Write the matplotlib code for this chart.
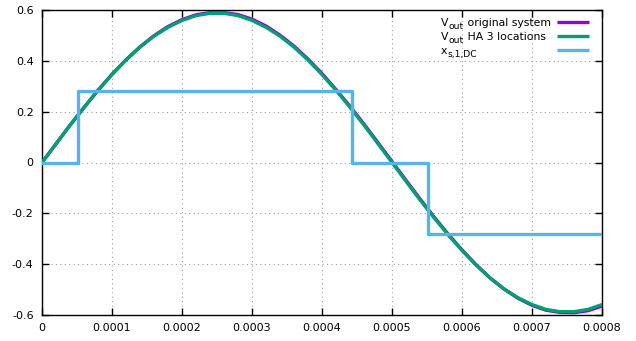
import matplotlib
matplotlib.use("Agg")
import matplotlib.pyplot as plt
from matplotlib.lines import Line2D

plt.rcParams['font.family'] = ['DejaVu Sans']
plt.rcParams['axes.unicode_minus'] = False

# time samples (s)
t = [i * 0.00002 for i in range(41)]

# V_out original system
v_orig = [0.000, 0.073, 0.146, 0.216, 0.284, 0.347, 0.404, 0.455, 0.499, 0.535,
          0.562, 0.581, 0.590, 0.590, 0.582, 0.564, 0.537, 0.501, 0.458, 0.407,
          0.350, 0.287, 0.221, 0.151, 0.078, 0.004, -0.070, -0.143, -0.214, -0.281,
          -0.344, -0.402, -0.454, -0.498, -0.534, -0.562, -0.581, -0.590, -0.591, -0.583,
          -0.565]

# V_out HA 3 locations
v_ha = [0.000, 0.074, 0.147, 0.217, 0.284, 0.346, 0.403, 0.454, 0.497, 0.532,
        0.559, 0.578, 0.587, 0.587, 0.578, 0.559, 0.532, 0.497, 0.454, 0.403,
        0.346, 0.284, 0.217, 0.147, 0.074, 0.000, -0.074, -0.147, -0.217, -0.284,
        -0.346, -0.403, -0.454, -0.497, -0.532, -0.559, -0.578, -0.587, -0.587, -0.578,
        -0.559]

# x_s,1,DC step signal
step_t = [0.0, 0.0000514, 0.000443, 0.000552, 0.0008]
step_v = [0.0, 0.283, 0.0, -0.283, -0.283]

# legend labels as (text, is_subscript) pieces
labels = [[('V', False), ('out', True), (' original system', False)],
          [('V', False), ('out', True), (' HA 3 locations', False)],
          [('x', False), ('s,1,DC', True)]]
colors = ['#9400D3', '#009E73', '#56B4E9']

xticks = [0, 0.0001, 0.0002, 0.0003, 0.0004, 0.0005, 0.0006, 0.0007, 0.0008]
xticklabels = ['0', '0.0001', '0.0002', '0.0003', '0.0004', '0.0005', '0.0006', '0.0007', '0.0008']
yticks = [-0.6, -0.4, -0.2, 0, 0.2, 0.4, 0.6]
yticklabels = ['-0.6', '-0.4', '-0.2', '0', '0.2', '0.4', '0.6']

W, H = 636, 341
fig = plt.figure(figsize=(W/100, H/100), dpi=100)
ax = fig.add_axes([42/W, 26/H, 560/W, 305/H])

ax.plot(t, v_orig, color=colors[0], lw=2.4, zorder=3)
ax.plot(t, v_ha, color=colors[1], lw=2.4, zorder=4)
ax.step(step_t, step_v, where='post', color=colors[2], lw=2.4, zorder=5)

ax.set_xlim(0, 0.0008)
ax.set_ylim(-0.6, 0.6)
ax.set_xticks(xticks)
ax.set_xticklabels(xticklabels)
ax.set_yticks(yticks)
ax.set_yticklabels(yticklabels)
ax.tick_params(direction='in', top=True, right=True, length=5, width=1,
               labelsize=8, colors='black', pad=6)
ax.grid(True, color='#a0a0a0', linestyle=(0, (1, 3)), linewidth=0.8)
for s in ax.spines.values():
    s.set_linewidth(1.0)
    s.set_color('black')

# gnuplot-like key drawn in figure pixel coordinates
renderer = fig.canvas.get_renderer()
main_fs, sub_fs, sub_drop = 7.8, 6.6, 2.5
for i, (pieces, col) in enumerate(zip(labels, colors)):
    ly = 22 + 14 * i
    base = ly + 4.5
    x = 441.0
    for txt, sub in pieces:
        yb = base + (sub_drop if sub else 0)
        tobj = fig.text(x / W, 1 - yb / H, txt, fontsize=sub_fs if sub else main_fs,
                        ha='left', va='baseline')
        bb = tobj.get_window_extent(renderer)
        x += bb.width
    fig.add_artist(Line2D([557/W, 589/W], [1 - ly/H, 1 - ly/H], color=col, lw=2.4,
                          solid_capstyle='butt'))

fig.savefig('out.png', dpi=100)
